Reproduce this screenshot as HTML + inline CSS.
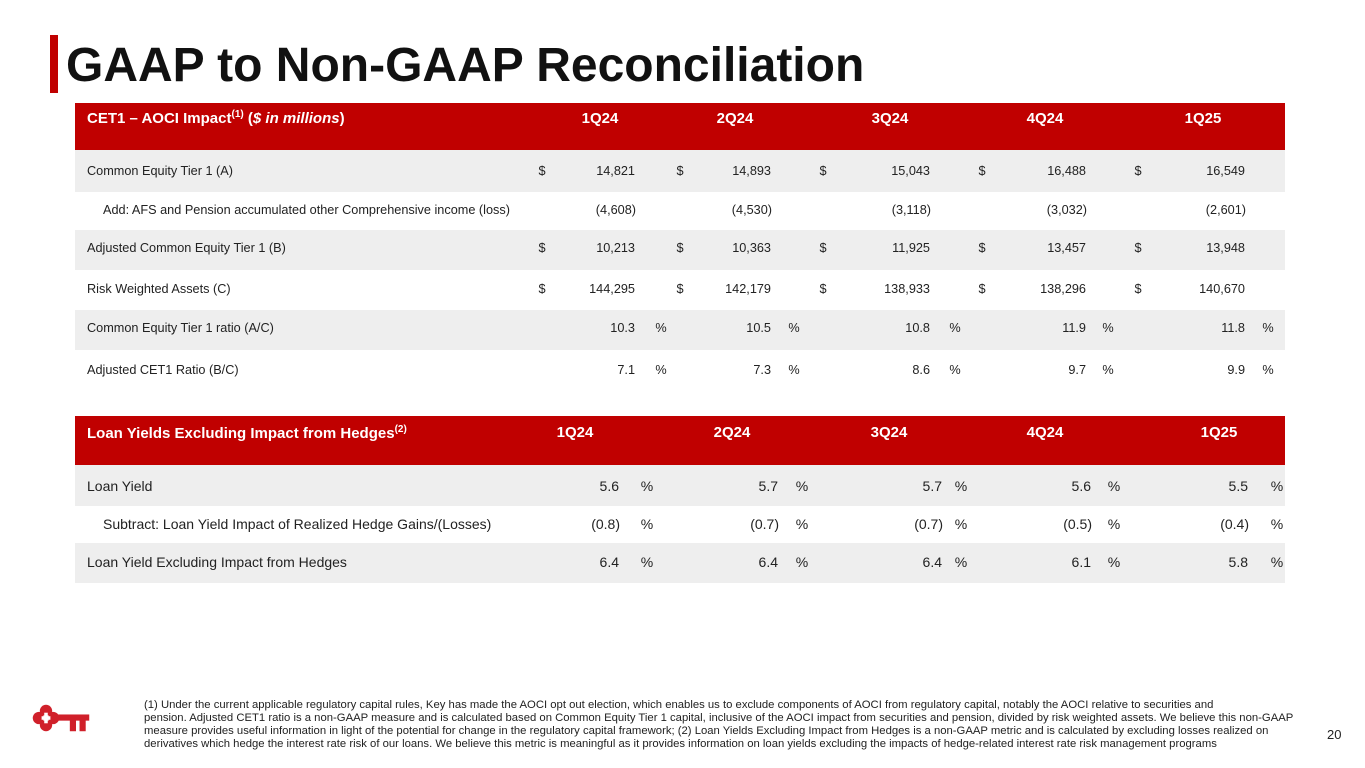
<!DOCTYPE html>
<html><head><meta charset="utf-8"><style>
body{margin:0;width:1365px;height:768px;background:#fff;position:relative;overflow:hidden;font-family:"Liberation Sans",Arial,sans-serif;color:#222}
.a{position:absolute;white-space:nowrap}
.r{position:absolute;left:75px;width:1210px}
.hdr{background:#c00000}
.g{background:#eeeeee}
.h{color:#fff;font-weight:bold;font-size:15px}
.t1{font-size:12.7px}
.t2{font-size:14px}
.rt{text-align:right;transform:translateX(-100%)}
.c{transform:translateX(-50%)}
</style></head><body>
<div class="a" style="left:50px;top:35px;width:8px;height:58px;background:#c00000"></div>
<div class="a" style="left:66px;top:36px;font-size:48px;font-weight:bold;color:#111;line-height:60px">GAAP to Non-GAAP Reconciliation</div>

<div class="r hdr" style="top:103px;height:47px"></div>
<div class="r g" style="top:150px;height:42px"></div>
<div class="r g" style="top:230px;height:40px"></div>
<div class="r g" style="top:310px;height:40px"></div>
<div class="r hdr" style="top:416px;height:49px"></div>
<div class="r g" style="top:465px;height:41px"></div>
<div class="r g" style="top:543px;height:40px"></div>

<div id="cells"></div>

<svg class="a" style="left:31px;top:703px" width="60" height="30" viewBox="0 0 68 34">
<g fill="#d0202a"><circle cx="9" cy="17" r="7"/><circle cx="17" cy="9" r="7"/><circle cx="17" cy="25" r="7"/><circle cx="25" cy="17" r="7"/>
<rect x="24" y="13" width="42" height="7"/><rect x="44" y="18" width="7" height="14"/><rect x="55" y="18" width="7" height="14"/></g>
<rect x="14" y="14" width="6" height="6" fill="#fff"/><rect x="15" y="11" width="4" height="12" fill="#fff"/><rect x="12" y="15" width="10" height="4" fill="#fff"/>
</svg>
<div class="a" style="left:144px;top:699px;font-size:11.3px;line-height:13px;color:#222">(1) Under the current applicable regulatory capital rules, Key has made the AOCI opt out election, which enables us to exclude components of AOCI from regulatory capital, notably the AOCI relative to securities and<br>pension. Adjusted CET1 ratio is a non-GAAP measure and is calculated based on Common Equity Tier 1 capital, inclusive of the AOCI impact from securities and pension, divided by risk weighted assets. We believe this non-GAAP<br>measure provides useful information in light of the potential for change in the regulatory capital framework; (2) Loan Yields Excluding Impact from Hedges is a non-GAAP metric and is calculated by excluding losses realized on<br>derivatives which hedge the interest rate risk of our loans. We believe this metric is meaningful as it provides information on loan yields excluding the impacts of hedge-related interest rate risk management programs</div>
<div class="a" style="left:1327px;top:727px;font-size:13px">20</div>

<script>
const quarters=["1Q24","2Q24","3Q24","4Q24","1Q25"];
const t1Labels=["Common Equity Tier 1 (A)","Add: AFS and Pension accumulated other Comprehensive income (loss)","Adjusted Common Equity Tier 1 (B)","Risk Weighted Assets (C)","Common Equity Tier 1 ratio (A/C)","Adjusted CET1 Ratio (B/C)"];
const cet1=["14,821","14,893","15,043","16,488","16,549"];
const aoci=["(4,608)","(4,530)","(3,118)","(3,032)","(2,601)"];
const adjCet1=["10,213","10,363","11,925","13,457","13,948"];
const rwa=["144,295","142,179","138,933","138,296","140,670"];
const cet1Ratio=["10.3","10.5","10.8","11.9","11.8"];
const adjRatio=["7.1","7.3","8.6","9.7","9.9"];
const t2Labels=["Loan Yield","Subtract: Loan Yield Impact of Realized Hedge Gains/(Losses)","Loan Yield Excluding Impact from Hedges"];
const loanYield=["5.6","5.7","5.7","5.6","5.5"];
const hedgeImpact=["(0.8)","(0.7)","(0.7)","(0.5)","(0.4)"];
const loanYieldEx=["6.4","6.4","6.4","6.1","5.8"];

const root=document.getElementById('cells');
function add(text,x,y,cls,name){
  const d=document.createElement('div');
  d.className='a '+cls;
  d.style.left=x+'px';d.style.top=y+'px';
  d.textContent=text;
  
  
  root.appendChild(d);
}
const h1=document.createElement('div');h1.className='a h';h1.style.left='87px';h1.style.top='109px';
h1.innerHTML='CET1 – AOCI Impact<sup style="font-size:10px">(1)</sup> (<i>$ in millions</i>)';


root.appendChild(h1);
const q1x=[600,735,890,1045,1203];
quarters.forEach((q,i)=>add(q,q1x[i],110,'h c','quarter-header'));
const r1y=[164,203,241,282,321,363];
const lx=[87,103,87,87,87,87];
t1Labels.forEach((l,i)=>add(l,lx[i],r1y[i],'t1','row-label'));
const dx=[542,680,823,982,1138], vr=[635,771,930,1086,1245], px=[661,794,955,1108,1268];
[cet1,adjCet1,rwa].forEach((arr,k)=>{const y=r1y[[0,2,3][k]];arr.forEach((v,i)=>{add('$',dx[i],y,'t1 c','dollar-sign');add(v,vr[i],y,'t1 rt','value-cell');});});
aoci.forEach((v,i)=>add(v,vr[i]+1,r1y[1],'t1 rt','value-cell'));
[cet1Ratio,adjRatio].forEach((arr,k)=>{const y=r1y[4+k];arr.forEach((v,i)=>{add(v,vr[i],y,'t1 rt','value-cell');add('%',px[i],y,'t1 c','percent-sign');});});
const h2=document.createElement('div');h2.className='a h';h2.style.left='87px';h2.style.top='424px';
h2.innerHTML='Loan Yields Excluding Impact from Hedges<sup style="font-size:10px">(2)</sup>';


root.appendChild(h2);
const q2x=[575,732,889,1045,1219];
quarters.forEach((q,i)=>add(q,q2x[i],424,'h c','quarter-header'));
const r2y=[478,516,554];
const l2x=[87,103,87];
t2Labels.forEach((l,i)=>add(l,l2x[i],r2y[i],'t2','row-label'));
const v2r=[619,778,942,1091,1248], p2x=[647,802,961,1114,1277];
[loanYield,hedgeImpact,loanYieldEx].forEach((arr,k)=>arr.forEach((v,i)=>{add(v,v2r[i]+(k==1?1:0),r2y[k],'t2 rt','value-cell');add('%',p2x[i],r2y[k],'t2 c','percent-sign');}));
</script>
</body></html>
